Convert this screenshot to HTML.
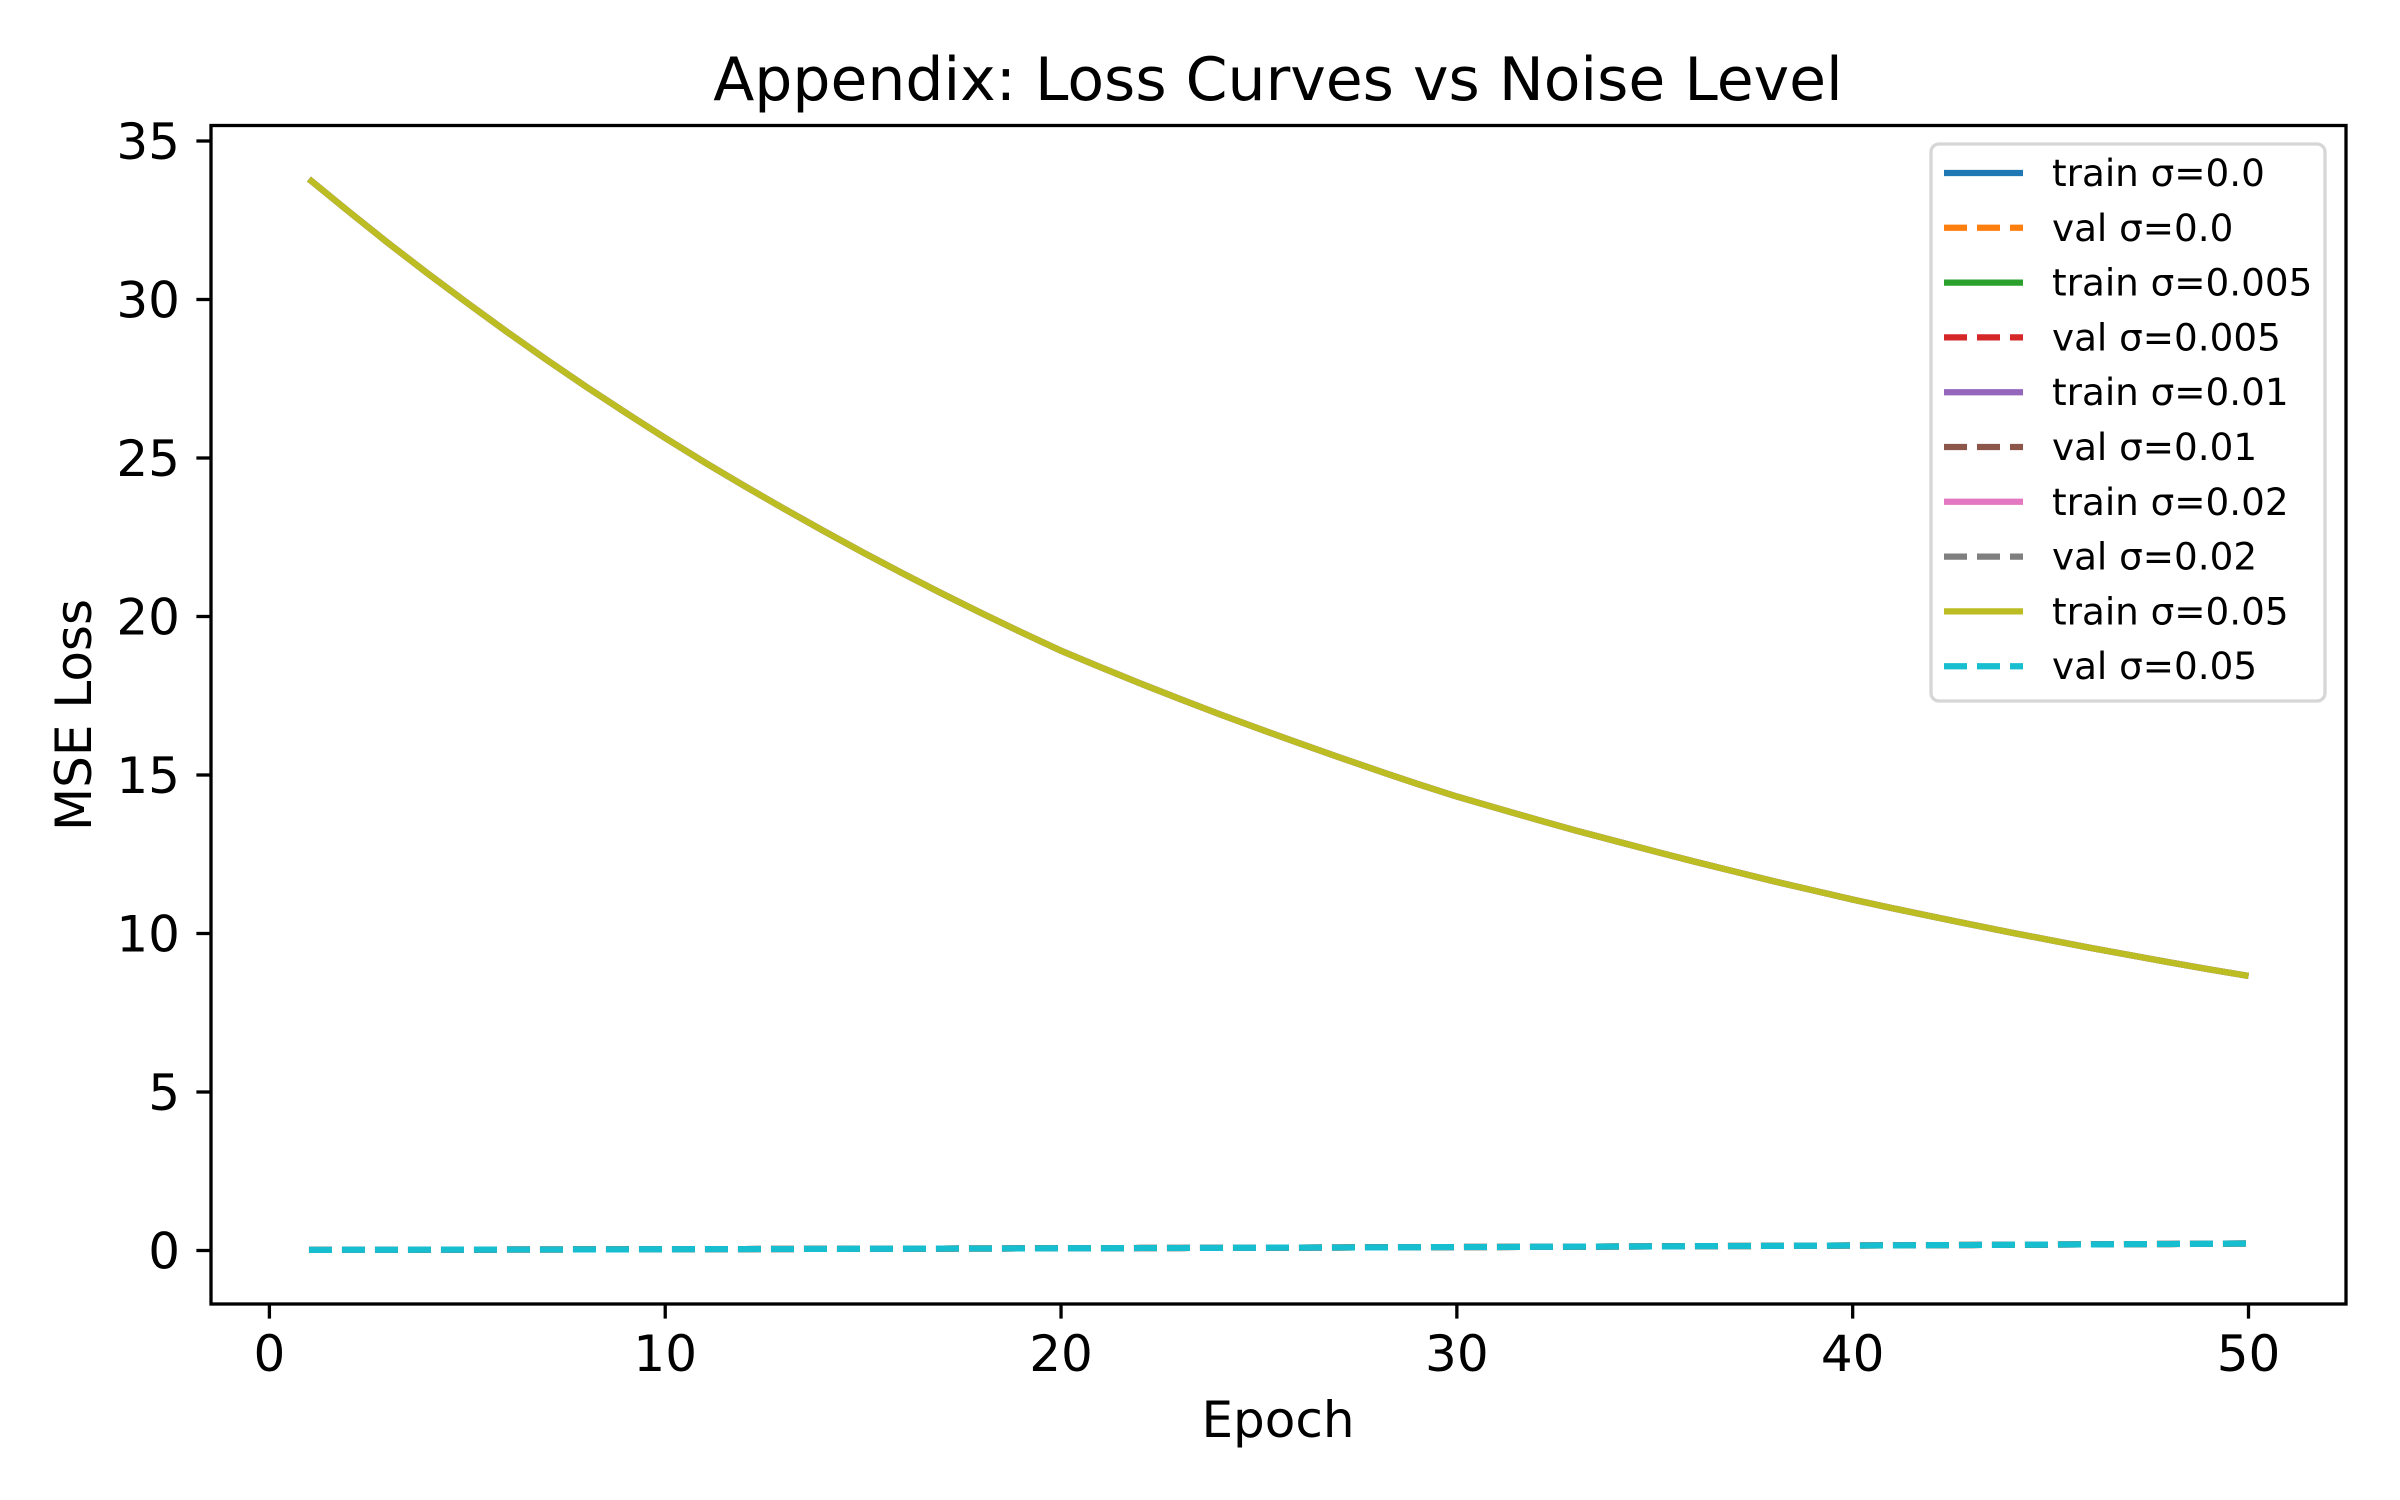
<!DOCTYPE html>
<html><head><meta charset="utf-8"><style>html,body{margin:0;padding:0;background:#fff}svg{display:block}text{font-family:"DejaVu Sans","Liberation Sans",sans-serif}</style></head>
<body>
<svg id="chart" width="2400" height="1500" viewBox="0 0 2400 1500" xmlns="http://www.w3.org/2000/svg">
<rect width="2400" height="1500" fill="#fff"/>
<text x="1278" y="100" font-size="60" text-anchor="middle">Appendix: Loss Curves vs Noise Level</text>
<g id="plot"></g>
<rect x="211" y="125.5" width="2135" height="1178.5" fill="none" stroke="#000" stroke-width="3.3"/>
<g id="ticks"></g>
<text x="1278" y="1437" font-size="50" text-anchor="middle">Epoch</text>
<text x="0" y="0" font-size="50" text-anchor="middle" transform="translate(91,715) rotate(-90)">MSE Loss</text>
<g id="legend"></g>
</svg>
<script>
const epochs=[];for(let i=1;i<=50;i++)epochs.push(i);
const trainLoss=[33.8,32.78,31.78,30.82,29.89,28.98,28.10,27.25,26.43,25.63,24.86,24.12,23.40,22.70,22.02,21.36,20.72,20.10,19.50,18.92,18.40,17.89,17.40,16.92,16.46,16.01,15.57,15.14,14.72,14.32,13.96,13.60,13.25,12.92,12.59,12.27,11.96,11.65,11.36,11.07,10.80,10.54,10.28,10.03,9.79,9.55,9.32,9.09,8.87,8.66];
const valLoss=[0.02,0.022,0.024,0.026,0.028,0.030,0.032,0.035,0.037,0.040,0.043,0.045,0.048,0.051,0.054,0.057,0.060,0.063,0.066,0.070,0.073,0.077,0.080,0.084,0.088,0.091,0.095,0.099,0.104,0.108,0.112,0.117,0.121,0.126,0.131,0.136,0.141,0.146,0.151,0.157,0.162,0.168,0.174,0.180,0.186,0.193,0.200,0.207,0.214,0.221];
const seriesLabels=["train σ=0.0","val σ=0.0","train σ=0.005","val σ=0.005","train σ=0.01","val σ=0.01","train σ=0.02","val σ=0.02","train σ=0.05","val σ=0.05"];
const colors=["#1f77b4","#ff7f0e","#2ca02c","#d62728","#9467bd","#8c564b","#e377c2","#7f7f7f","#bcbd22","#17becf"];
const xTicks=[0,10,20,30,40,50];
const yTicks=[0,5,10,15,20,25,30,35];
const NS="http://www.w3.org/2000/svg";
function xs(v){return 269.4+(v-0)*(2248.5-269.4)/50;}
function ys(v){return 1250.5-v*(1250.5-141)/35;}
const plot=document.getElementById('plot');
seriesLabels.forEach((lab,i)=>{
  const data=(i%2===0)?trainLoss:valLoss;
  const p=document.createElementNS(NS,'path');
  
  
  p.setAttribute('d',data.map((v,j)=>(j?'L':'M')+xs(epochs[j]).toFixed(2)+' '+ys(v).toFixed(2)).join(' '));
  p.setAttribute('fill','none');p.setAttribute('stroke',colors[i]);p.setAttribute('stroke-width','6.25');
  if(i%2===1)p.setAttribute('stroke-dasharray','23 10');
  plot.appendChild(p);
});
const tg=document.getElementById('ticks');
xTicks.forEach(t=>{
  const l=document.createElementNS(NS,'line');
  
  
  l.setAttribute('x1',xs(t));l.setAttribute('x2',xs(t));l.setAttribute('y1',1304);l.setAttribute('y2',1318.6);l.setAttribute('stroke','#000');l.setAttribute('stroke-width','3.3');tg.appendChild(l);
  const tx=document.createElementNS(NS,'text');
  
  
  tx.setAttribute('x',xs(t));tx.setAttribute('y',1371);tx.setAttribute('font-size','50');tx.setAttribute('text-anchor','middle');tx.textContent=t;tg.appendChild(tx);
});
yTicks.forEach(t=>{
  const l=document.createElementNS(NS,'line');
  
  
  l.setAttribute('x1',196.4);l.setAttribute('x2',211);l.setAttribute('y1',ys(t));l.setAttribute('y2',ys(t));l.setAttribute('stroke','#000');l.setAttribute('stroke-width','3.3');tg.appendChild(l);
  const tx=document.createElementNS(NS,'text');
  
  
  tx.setAttribute('x',180);tx.setAttribute('y',ys(t)+18);tx.setAttribute('font-size','50');tx.setAttribute('text-anchor','end');tx.textContent=t;tg.appendChild(tx);
});
const lg=document.getElementById('legend');
const box=document.createElementNS(NS,'rect');


box.setAttribute('x',1931);box.setAttribute('y',144);box.setAttribute('width',394);box.setAttribute('height',557);box.setAttribute('rx',8);box.setAttribute('fill','#fff');box.setAttribute('fill-opacity','0.8');box.setAttribute('stroke','#d6d6d6');box.setAttribute('stroke-width','3.3');lg.appendChild(box);
seriesLabels.forEach((lab,i)=>{
  const y=173+i*54.8;
  const l=document.createElementNS(NS,'line');
  
  
  l.setAttribute('x1',1944);l.setAttribute('x2',2023);l.setAttribute('y1',y);l.setAttribute('y2',y);l.setAttribute('stroke',colors[i]);l.setAttribute('stroke-width','6.25');
  if(i%2===1)l.setAttribute('stroke-dasharray','23 10');
  lg.appendChild(l);
  const tx=document.createElementNS(NS,'text');
  
  
  tx.setAttribute('x',2052);tx.setAttribute('y',y+13);tx.setAttribute('font-size','37.3');tx.textContent=lab;lg.appendChild(tx);
});
</script>
</body></html>
